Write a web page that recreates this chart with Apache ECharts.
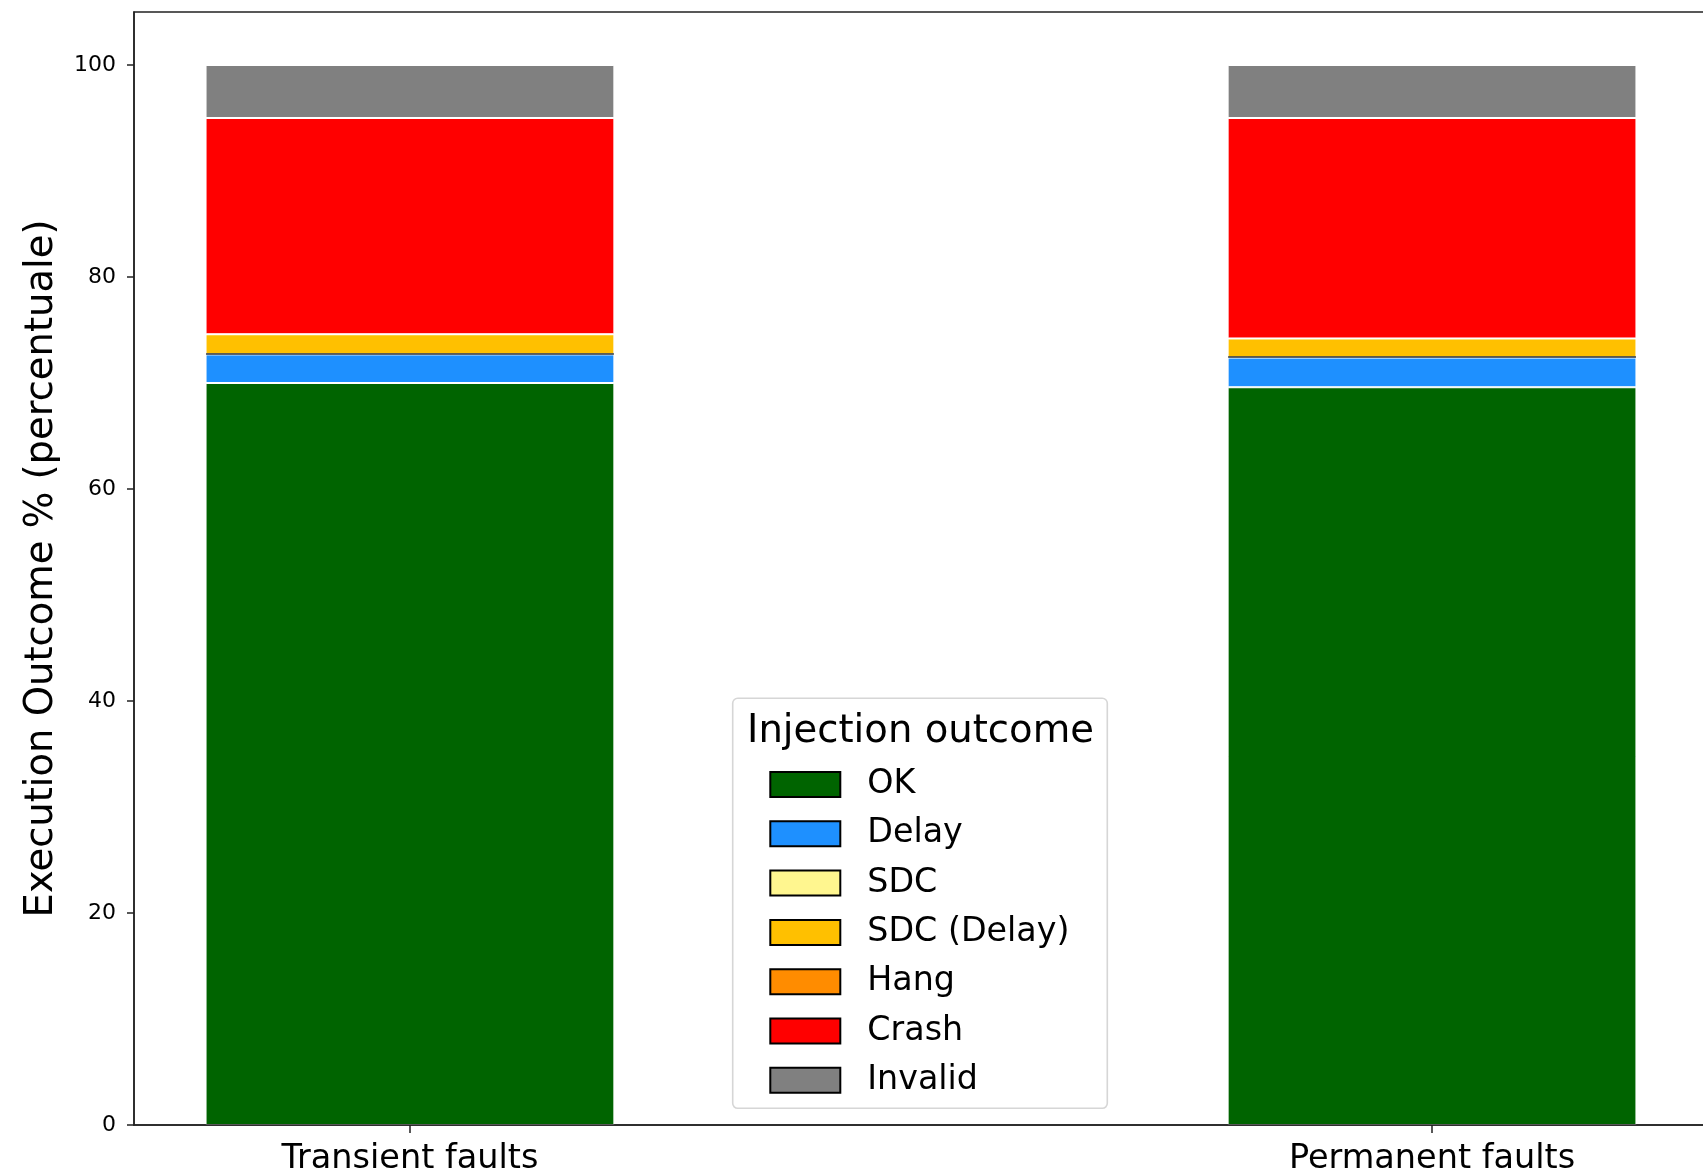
<!DOCTYPE html>
<html>
<head>
<meta charset="utf-8">
<title>Execution Outcome</title>
<script src="https://cdn.jsdelivr.net/npm/echarts@6/dist/echarts.min.js"></script>
<style>
  html, body { margin: 0; padding: 0; background: #ffffff; }
  #chart { width: 1703px; height: 1176px; }
</style>
</head>
<body>
<div id="chart"></div>
<script>
// Fault-injection campaigns
const campaigns = ['Transient faults', 'Permanent faults'];
const campaignPos = [0, 1];

// Outcome shares, percent of executions
const okValues       = [70.0, 69.6];
const delayValues    = [2.7, 2.8];
const sdcValues      = [0, 0];
const sdcDelayValues = [1.9, 1.8];
const hangValues     = [0, 0];
const crashValues    = [20.4, 20.8];
const invalidValues  = [5.0, 5.0];

const yTicks = [0, 20, 40, 60, 80, 100];

const outcomes = [
  { name: 'OK',          values: okValues,       color: '#006400' },
  { name: 'Delay',       values: delayValues,    color: '#1E90FF' },
  { name: 'SDC',         values: sdcValues,      color: '#FFF68F', edge: '#27313d' },
  { name: 'SDC (Delay)', values: sdcDelayValues, color: '#FFC000' },
  { name: 'Hang',        values: hangValues,     color: '#FF8C00' },
  { name: 'Crash',       values: crashValues,    color: '#FF0000' },
  { name: 'Invalid',     values: invalidValues,  color: '#808080' }
];

const FONT = 'DejaVu Sans';
const W = 1703;
const gridLeft = 134, gridRight = -5, gridTop = 12, gridBottom = 51;
const xMin = -0.27, xMax = 1.27;
const barFrac = 0.4;
const unitPx = (W - gridLeft - gridRight) / (xMax - xMin);

// Bars live on a hidden category grid whose bands line up with x = 0 and x = 1
const bandLeft = gridLeft + (0 - xMin) * unitPx - unitPx / 2;
const bandWidth = unitPx * campaigns.length;
const bandRight = W - (bandLeft + bandWidth);

const chart = echarts.init(document.getElementById('chart'), null, { renderer: 'canvas' });

const series = outcomes.map(o => ({
  name: o.name,
  type: 'bar',
  stack: 'total',
  xAxisIndex: 1,
  yAxisIndex: 1,
  barWidth: (barFrac * 100) + '%',
  barMinHeight: o.edge ? 1 : 0,
  z: o.edge ? 3 : 2,
  data: o.values,
  itemStyle: {
    color: o.color,
    borderColor: o.edge || '#ffffff',
    borderWidth: o.edge ? 1.5 : 1
  },
  emphasis: { disabled: true },
  animation: false
}));

chart.setOption({
  animation: false,
  backgroundColor: '#ffffff',
  grid: [
    {
      left: gridLeft, right: gridRight, top: gridTop, bottom: gridBottom,
      outerBoundsMode: 'none',
      show: true, borderColor: '#222222', borderWidth: 1.5, backgroundColor: 'transparent'
    },
    {
      left: bandLeft, right: bandRight, top: gridTop, bottom: gridBottom,
      outerBoundsMode: 'none'
    }
  ],
  xAxis: [
    {
      type: 'value',
      gridIndex: 0,
      min: xMin, max: xMax,
      splitLine: { show: false },
      axisLine: { show: true, onZero: false, lineStyle: { color: '#222222', width: 1.5 } },
      axisTick: { show: true, customValues: campaignPos, length: 8, lineStyle: { color: '#222222', width: 1.5 } },
      axisLabel: {
        customValues: campaignPos,
        formatter: v => campaigns[Math.round(v)] || '',
        fontFamily: FONT, fontSize: 33.5, color: '#000000', margin: 17
      },
      z: 10
    },
    {
      type: 'category',
      gridIndex: 1,
      data: campaigns,
      show: false
    }
  ],
  yAxis: [
    {
      type: 'value',
      gridIndex: 0,
      min: 0, max: 105,
      name: 'Execution Outcome % (percentuale)',
      nameLocation: 'middle',
      nameGap: 73,
      nameTextStyle: { fontFamily: FONT, fontSize: 38.5, color: '#000000' },
      splitLine: { show: false },
      axisLine: { show: true, onZero: false, lineStyle: { color: '#222222', width: 1.5 } },
      axisTick: { show: true, customValues: yTicks, length: 7, lineStyle: { color: '#222222', width: 1.5 } },
      axisLabel: {
        customValues: yTicks,
        fontFamily: FONT, fontSize: 22, color: '#000000', margin: 18
      },
      z: 10
    },
    {
      type: 'value',
      gridIndex: 1,
      min: 0, max: 105,
      show: false
    }
  ],
  legend: {
    orient: 'vertical',
    left: 769.3,
    top: 764.5,
    padding: 0,
    itemWidth: 70,
    itemHeight: 25,
    itemGap: 9.3,
    icon: 'rect',
    selectedMode: false,
    itemStyle: { borderColor: '#000000', borderWidth: 2 },
    textStyle: {
      fontFamily: FONT, fontSize: 33.3, color: '#000000',
      lineHeight: 40, padding: [0, 0, 0, 22]
    },
    data: outcomes.map(o => o.name),
    z: 10
  },
  graphic: [
    {
      type: 'rect', z: 5,
      shape: { x: 732.7, y: 698.3, width: 374.6, height: 410, r: 5 },
      style: { fill: '#ffffff', stroke: '#d6d6d6', lineWidth: 1.6 }
    },
    {
      type: 'text', z: 6,
      x: 747, y: 732,
      style: {
        text: 'Injection outcome',
        font: '38.6px "DejaVu Sans"',
        fill: '#000000',
        verticalAlign: 'middle'
      }
    }
  ],
  series: series
});
</script>
</body>
</html>
